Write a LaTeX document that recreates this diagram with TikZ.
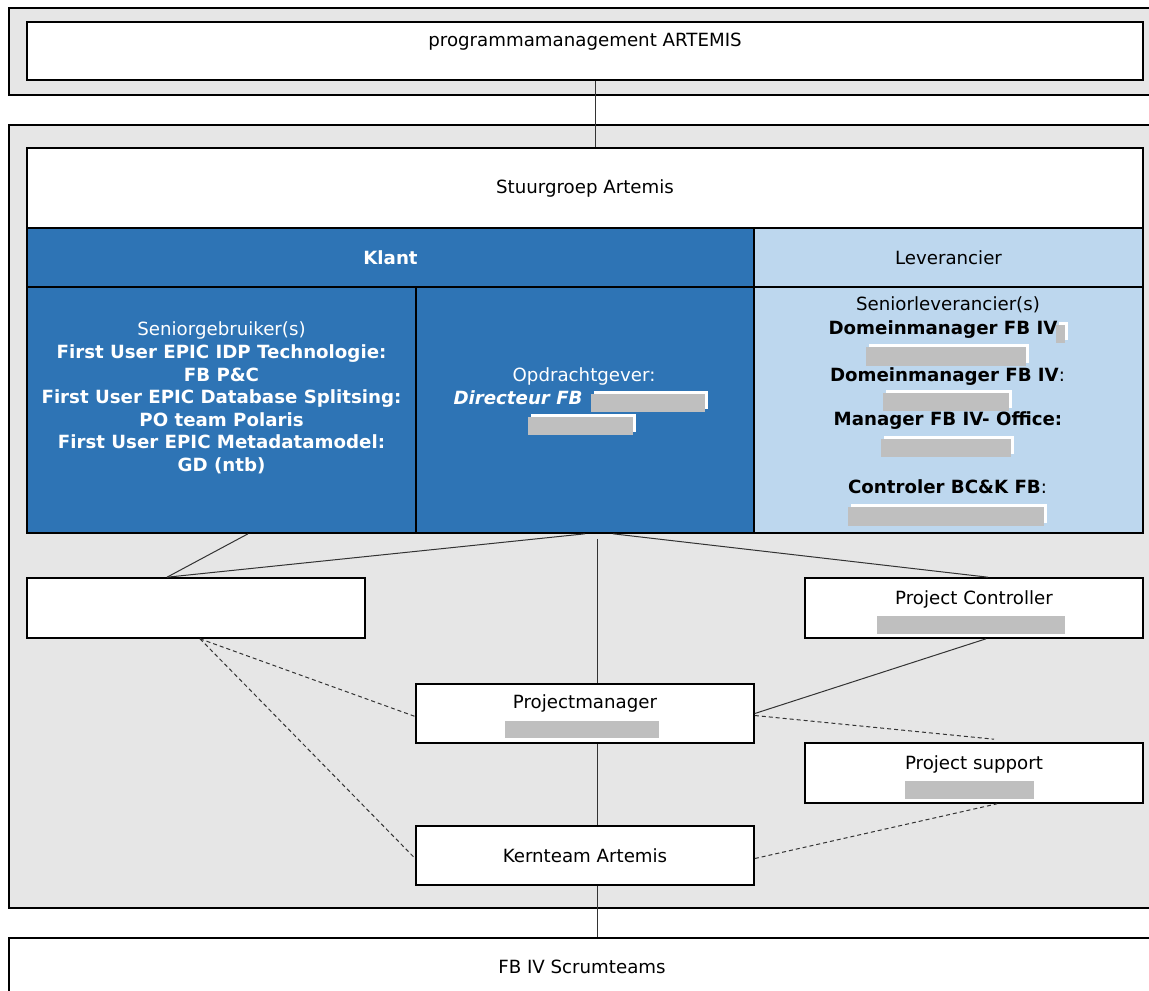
\documentclass[tikz,border=0pt]{standalone}
\usepackage{fontspec}
\setmainfont{DejaVu Sans}
\usetikzlibrary{calc}

\definecolor{klantblauw}{HTML}{2E74B5}
\definecolor{levblauw}{HTML}{BDD7EE}
\definecolor{paneelgrijs}{HTML}{E6E6E6}
\definecolor{lakgrijs}{HTML}{BFBFBF}

\newcommand{\tekst}{\fontsize{9.1}{11.3}\selectfont}
% grijs weggelakt vak met witte rand
\newcommand{\lak}[4]{%
  \fill[white] (#1+3,#2-3) rectangle (#3+3,#4-3);
  \fill[lakgrijs] (#1,#2) rectangle (#3,#4);}

\tikzset{
  paneel/.style={draw=black, line width=0.8pt, fill=paneelgrijs},
  vak/.style={draw=black, line width=0.8pt, fill=white, inner sep=0pt, text height=7pt},
  cel/.style={draw=black, line width=0.8pt, inner sep=0pt},
  regel/.style={inner sep=0pt, text height=6.6pt, text depth=1.9pt},
  lijn/.style={draw=black!80, line width=0.5pt},
  stippel/.style={lijn, dash pattern=on 2pt off 1.5pt},
}

\begin{document}
\begin{tikzpicture}[x=0.5pt, y=-0.5pt, font=\tekst]
  \useasboundingbox (0,0) rectangle (1149,990);
  \clip (0,0) rectangle (1149,990);

  % grijze panelen
  \draw[paneel] (9,8) rectangle (1160,95);
  \draw[paneel] (9,125) rectangle (1160,908);

  % programma en stuurgroep
  \node[vak, minimum width=558pt, minimum height=29pt, text depth=11.4pt] (prog) at (585,51) {programmamanagement ARTEMIS};
  \node[vak, minimum width=558pt, minimum height=40pt, text depth=1.4pt] (stuur) at (585,188) {Stuurgroep Artemis};

  % klant en leverancier
  \node[cel, fill=klantblauw, text=white, minimum width=363.5pt, minimum height=29.5pt] (klant) at (390.5,257.5) {\textbf{Klant}};
  \node[cel, fill=levblauw, minimum width=194.5pt, minimum height=29.5pt] (lev) at (948.5,257.5) {Leverancier};
  \node[cel, fill=klantblauw, minimum width=194.5pt, minimum height=123pt] (sg) at (221.5,410) {};
  \node[cel, fill=klantblauw, minimum width=169pt, minimum height=123pt] (opd) at (585,410) {};
  \node[cel, fill=levblauw, minimum width=194.5pt, minimum height=123pt] (sl) at (948.5,410) {};

  \node[text=white, align=center, inner sep=0pt] (sgtekst) at (221.5,398) {Seniorgebruiker(s)\\
    \textbf{First User EPIC IDP Technologie:}\\ \textbf{FB P\&C}\\
    \textbf{First User EPIC Database Splitsing:}\\ \textbf{PO team Polaris}\\
    \textbf{First User EPIC Metadatamodel:}\\ \textbf{GD (ntb)}};

  \node[regel, text=white] (opdtitel) at (584,377) {Opdrachtgever:};
  \node[regel, text=white, anchor=east] (opdnaam) at (583,400) {\textbf{\textit{Directeur FB}}};
  \lak{591}{394}{705}{412}
  \lak{528}{417}{633}{435}

  \node[regel] (sl1) at (948,306) {Seniorleverancier(s)};
  \node[regel] (sl2) at (943,330) {\textbf{Domeinmanager FB IV}};
  \lak{1056}{325}{1065}{343}
  \lak{866}{347}{1026}{366}
  \node[regel] (sl3) at (947.5,377) {\textbf{Domeinmanager FB IV}:};
  \lak{883}{393}{1009}{411}
  \node[regel] (sl4) at (948,421) {\textbf{Manager FB IV- Office:}};
  \lak{881}{439}{1011}{457}
  \node[regel] (sl5) at (947.5,489) {\textbf{Controler BC\&K FB}:};
  \lak{848}{507}{1044}{526}

  % projectorganisatie
  \node[vak, minimum width=169pt, minimum height=30pt] (blanco) at (196,608) {};
  \node[vak, minimum width=169pt, minimum height=30pt, text depth=10.4pt] (pc) at (974,608) {Project Controller};
  \lak{877}{616}{1065}{634}
  \node[vak, minimum width=169pt, minimum height=29.5pt, text depth=11.9pt] (pm) at (585,713.5) {Projectmanager};
  \lak{505}{721}{659}{738}
  \node[vak, minimum width=169pt, minimum height=30pt, text depth=10.4pt] (ps) at (974,773) {Project support};
  \lak{905}{781}{1034}{799}
  \node[vak, minimum width=169pt, minimum height=29.5pt, text depth=0pt] (kern) at (585,855.5) {Kernteam Artemis};
  \node[vak, minimum width=573pt, minimum height=30pt, text depth=1.4pt] (scrum) at (582,968) {FB IV Scrumteams};

  % lijnen
  \draw[lijn] ($(prog.south)+(10,0)$) -- ($(stuur.north)+(10,0)$);
  \draw[lijn] ($(sg.south)+(26.5,0)$) -- ($(blanco.north)+(-29,0)$);
  \draw[lijn] (opd.south) -- ($(blanco.north)+(-29,0)$);
  \draw[lijn] ($(opd.south)+(28,0)$) -- ($(pc.north)+(14,0)$);
  \draw[lijn] ($(opd.south)+(12,5)$) -- ($(pm.north)+(12,0)$);
  \draw[lijn] ($(pm.south)+(12,0)$) -- ($(kern.north)+(12,0)$);
  \draw[lijn] ($(kern.south)+(12,0)$) -- ($(scrum.north)+(15,0)$);
  \draw[lijn] (pm.east) -- ($(pc.south)+(12,0)$);
  \draw[stippel] ($(pm.east)+(0,2)$) -- ($(ps.north)+(20,-3)$);
  \draw[stippel] ($(kern.east)+(0,3)$) -- ($(ps.south)+(23,0)$);
  \draw[stippel] ($(blanco.south)+(4,0)$) -- ($(pm.west)+(0,3)$);
  \draw[stippel] ($(blanco.south)+(4,0)$) -- ($(kern.west)+(0,3)$);
\end{tikzpicture}
\end{document}
